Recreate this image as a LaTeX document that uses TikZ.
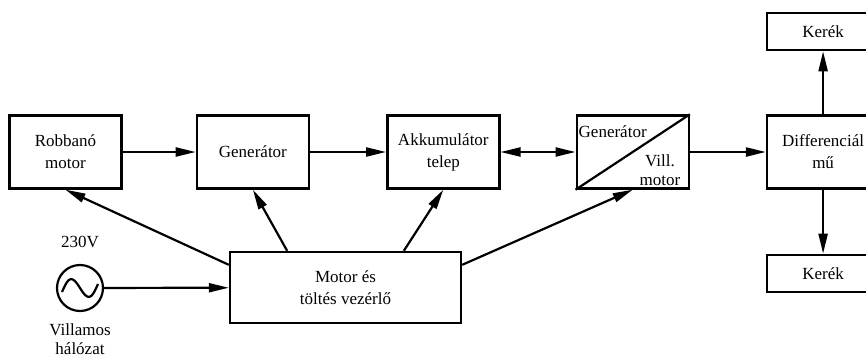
\documentclass[tikz,border=0pt]{standalone}
\usepackage{fontspec}
\setmainfont{Liberation Serif}
\usetikzlibrary{arrows.meta,positioning,calc}

\begin{document}
\begin{tikzpicture}[x=1pt,y=-1pt]
%sizes are taken in pt, y grows downwards
\tikzstyle{block}=[draw, line width=2.4pt, minimum height=73pt, minimum width=112pt, inner sep=0pt, align=center, font=\fontsize{17}{22}\selectfont]
\tikzstyle{wheel}=[block, minimum height=37pt]
\tikzstyle{label}=[inner sep=0pt, align=center, font=\fontsize{17}{19}\selectfont]
\tikzstyle{arrow}=[-{Triangle[length=20pt,width=9pt]}, line width=2.2pt]
\useasboundingbox (0,0) rectangle (866,359);
\clip (0,0) rectangle (866,359);
\node[block](RM) at (65.5,152) {Robbanó\\motor};
\node[block](G) [right = 73pt of RM] {Generátor};
\node[block](AK) [right = 76pt of G] {Akkumulátor\\telep};
\node[block](GV) [right = 75pt of AK] {};
\node[block](D) [right = 76pt of GV] {Differenciál\\mű};
\node[wheel](K1) [above = 63pt of D] {Kerék};
\node[wheel](K2) [below = 64pt of D] {Kerék};
\node[block, minimum width=231pt, minimum height=71pt](MV) at (345.5,287.5) {Motor és\\töltés vezérlő};
\node[draw, circle, line width=2.2pt, minimum size=46pt, inner sep=0pt](S) at (80,288) {};
\node[label](U) [above = 16pt of S] {230V};
\node[label](H) [below = 11pt of S] {Villamos\\hálózat};
% generator / motor box
\draw[line width=2.2pt] (GV.south west) -- (GV.north east);
\node[label, anchor=west] at ($(GV.north west)+(3,17)$) {Generátor};
\node[label] at ($(GV.south east)+(-30,-20)$) {Vill.\\motor};
% sine of the source
\draw[line width=2.2pt, shift={(S.center)}] (-18,4) sin (-9,-9) cos (0,0) sin (9,9) cos (18,-4);
\draw[arrow] (RM) -- (G);
\draw[arrow] (G) -- (AK);
\draw[arrow, {Triangle[length=20pt,width=9pt]}-{Triangle[length=20pt,width=9pt]}] (AK) -- (GV);
\draw[arrow] (GV) -- (D);
\draw[arrow] (D) -- (K1);
\draw[arrow] (D) -- (K2);
\draw[arrow] (S) -- (MV);
\draw[arrow] (MV.169) -- (RM.south);
\draw[arrow] ($(MV.north west)!0.25!(MV.north east)$) -- (G.south);
\draw[arrow] ($(MV.north west)!0.75!(MV.north east)$) -- (AK.south);
\draw[arrow] (MV.11) -- (GV.south);
\end{tikzpicture}
\end{document}
